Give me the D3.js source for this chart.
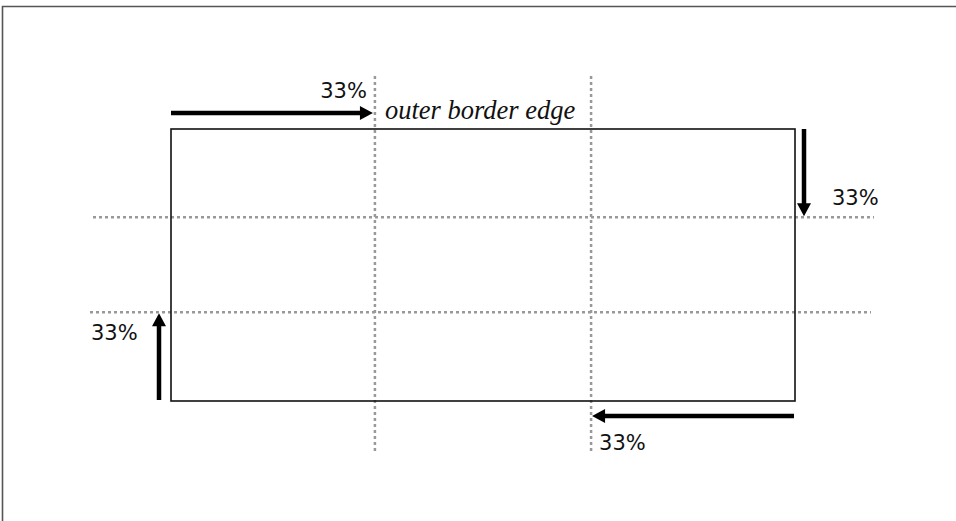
<!DOCTYPE html>
<html>
<head>
<meta charset="utf-8">
<script src="https://cdn.jsdelivr.net/npm/d3@7"></script>
<style>
	body { margin: 0; background: #fff; }
	.pct { font-family: "DejaVu Sans", sans-serif; font-size: 21px; fill: #111; }
	.caption { font-family: "Liberation Serif", serif; font-style: italic; font-size: 26.5px; fill: #111; }
	.guide { stroke: #999; stroke-width: 2.5; stroke-dasharray: 3,3; fill: none; }
</style>
</head>
<body>
<svg id="chart" width="956" height="521"></svg>
<script>
// slice offsets measured in from each edge (percent)
var sides = ["top", "right", "bottom", "left"];
var sliceValues = [33, 33, 33, 33];
var sliceLabels = ["33%", "33%", "33%", "33%"];
var captionText = "outer border edge";

var svg = d3.select("#chart");

// box coordinates as fractions of the border box
var x = d3.scaleLinear().domain([0, 1]).range([171, 795]);
var y = d3.scaleLinear().domain([0, 1]).range([129, 401]);

var s = {};
sides.forEach(function(side, i) {
	s[side] = sliceValues[i] / 100;
});

// grey frame around the figure (top and left only)
svg.append("path")
	.attr("d", "M2.5,521 V6.5 H956")
	.attr("fill", "none")
	.attr("stroke", "#555")
	.attr("stroke-width", 1.6);

// dotted slice guides (nudged a touch toward the middle like the original)
var vGuides = [x(s.left) - 2, x(1 - s.right) + 2];
var hGuides = [y(s.top) - 1.5, y(1 - s.bottom) + 1];
var hExtent = [[93, 874], [90, 871]];

svg.selectAll(".vguide")
	.data(vGuides)
	.enter()
	.append("line")
	.classed("guide", true)
	.attr("x1", d => d)
	.attr("x2", d => d)
	.attr("y1", 76)
	.attr("y2", 453);

svg.selectAll(".hguide")
	.data(hGuides)
	.enter()
	.append("line")
	.classed("guide", true)
	.attr("x1", (d, i) => hExtent[i][0])
	.attr("x2", (d, i) => hExtent[i][1])
	.attr("y1", d => d)
	.attr("y2", d => d);

// the border box itself
svg.append("rect")
	.attr("x", x(0))
	.attr("y", y(0))
	.attr("width", x(1) - x(0))
	.attr("height", y(1) - y(0))
	.attr("fill", "none")
	.attr("stroke", "#111")
	.attr("stroke-width", 1.6);

// arrows: [x1, y1, x2, y2] with the head at the second point
var arrows = [
	[x(0), 113, vGuides[0] - 2, 113],
	[x(1) + 9, y(0), x(1) + 9, hGuides[0] - 1],
	[x(1) - 1, 416, vGuides[1] + 1, 416],
	[x(0) - 12, y(1) - 1, x(0) - 12, hGuides[1] + 1]
];

var headLen = 13, headHalf = 7;

var arrowG = svg.selectAll(".arrow")
	.data(arrows)
	.enter()
	.append("g")
	.classed("arrow", true);

arrowG.append("line")
	.attr("x1", d => d[0])
	.attr("y1", d => d[1])
	.attr("x2", function(d) {
		var a = Math.atan2(d[3] - d[1], d[2] - d[0]);
		return d[2] - Math.cos(a) * (headLen - 1);
	})
	.attr("y2", function(d) {
		var a = Math.atan2(d[3] - d[1], d[2] - d[0]);
		return d[3] - Math.sin(a) * (headLen - 1);
	})
	.attr("stroke", "#000")
	.attr("stroke-width", 4.5);

arrowG.append("path")
	.attr("d", function(d) {
		var a = Math.atan2(d[3] - d[1], d[2] - d[0]);
		var bx = d[2] - Math.cos(a) * headLen,
			by = d[3] - Math.sin(a) * headLen;
		var px = -Math.sin(a) * headHalf,
			py = Math.cos(a) * headHalf;
		return "M" + d[2] + "," + d[3] +
			"L" + (bx + px) + "," + (by + py) +
			"L" + (bx - px) + "," + (by - py) + "Z";
	})
	.attr("fill", "#000");

// percentage labels
var labelPos = [
	{ x: vGuides[0] - 8, y: 98, anchor: "end" },
	{ x: 832, y: 205, anchor: "start" },
	{ x: vGuides[1] + 8, y: 450, anchor: "start" },
	{ x: 91, y: 340, anchor: "start" }
];

svg.selectAll(".pct")
	.data(sliceLabels)
	.enter()
	.append("text")
	.classed("pct", true)
	.attr("x", (d, i) => labelPos[i].x)
	.attr("y", (d, i) => labelPos[i].y)
	.attr("text-anchor", (d, i) => labelPos[i].anchor)
	.text(d => d);

// caption
svg.append("text")
	.classed("caption", true)
	.attr("x", vGuides[0] + 10)
	.attr("y", 119)
	.text(captionText);
</script>
</body>
</html>
